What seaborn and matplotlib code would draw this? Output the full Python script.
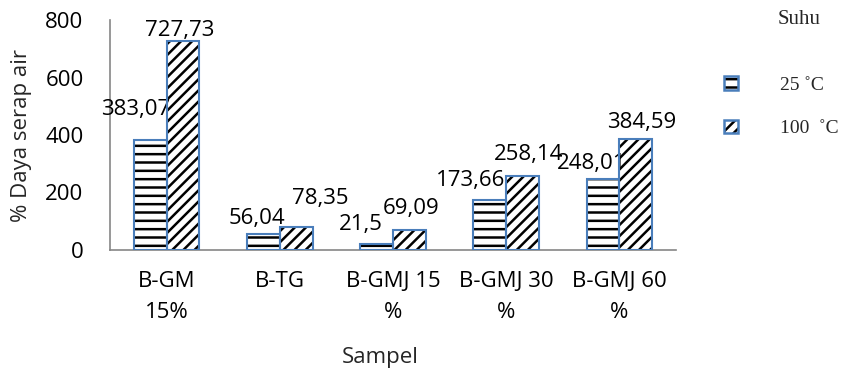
import pandas as pd
import seaborn as sns
import matplotlib.pyplot as plt
from matplotlib.patches import Rectangle, Patch

# Data
samples = ["B-GM\n15%", "B-TG", "B-GMJ 15\n%", "B-GMJ 30\n%", "B-GMJ 60\n%"]
temps = ["25 ˚C", "100  ˚C"]
vals_25 = [383.07, 56.04, 21.5, 173.66, 248.01]
vals_100 = [727.73, 78.35, 69.09, 258.14, 384.59]

df = pd.DataFrame({
    "Sampel": samples * 2,
    "Suhu": [temps[0]] * len(samples) + [temps[1]] * len(samples),
    "value": vals_25 + vals_100,
})

sns.set_style("white")
plt.rcParams['font.family'] = ['Open Sans', 'DejaVu Sans']
plt.rcParams['hatch.linewidth'] = 1.8

fig = plt.figure(figsize=(8.48, 3.76), dpi=100)
ax = fig.add_axes([110 / 848, 1 - 250 / 376, 566 / 848, 230 / 376])

sns.barplot(data=df, x="Sampel", y="value", hue="Suhu", hue_order=temps,
            order=samples, palette=["white", "white"], width=0.58,
            errorbar=None, legend=False, ax=ax)

blue = "#4a7ebb"
hatches = ["--", "///"]
fs = 16
# label offsets in pixels (dx, dy above the bar top)
label_dx = [[-14, -6, -16, -19, -11], [-3, 24, 2, 6, 6]]
label_dy = [[25, 10, 14, 14, 10], [5, 23, 16, 16, 11]]

for i, cont in enumerate(ax.containers):
    for j, bar in enumerate(cont):
        bar.set_hatch(hatches[i])
        bar.set_edgecolor("black")
        bar.set_linewidth(0)
        ax.add_patch(Rectangle(bar.get_xy(), bar.get_width(), bar.get_height(),
                               fill=False, edgecolor=blue, lw=1.5, zorder=3))
        v = bar.get_height()
        ax.annotate(f"{v:g}".replace(".", ","),
                    (bar.get_x() + bar.get_width() / 2, v),
                    xytext=(label_dx[i][j], label_dy[i][j]),
                    textcoords="offset pixels", ha="center", va="baseline",
                    fontsize=fs, color="black")

ax.set_ylim(0, 800)
ax.set_xlim(-0.5, 4.5)
ax.set_yticks([0, 200, 400, 600, 800])
ax.tick_params(axis="both", length=0, labelsize=fs, colors="black")
ax.tick_params(axis="y", pad=19)
ax.tick_params(axis="x", pad=15)
for lab in ax.get_xticklabels():
    lab.set_linespacing(1.65)
ax.set_xlabel("")
ax.set_ylabel("")
for s in ["top", "right"]:
    ax.spines[s].set_visible(False)
for s in ["left", "bottom"]:
    ax.spines[s].set_color("#868686")
    ax.spines[s].set_linewidth(1.2)

fig.text(22 / 848, 1 - 135 / 376, "% Daya serap air", rotation=90,
         ha="center", va="center", fontsize=fs)
fig.text(380 / 848, 1 - 363 / 376, "Sampel", ha="center", va="baseline",
         fontsize=fs)

# legend
serif = ['Liberation Serif', 'DejaVu Serif']
fig.text(799 / 848, 1 - 19 / 376, "Suhu", ha="center", va="center",
         fontsize=15, family=serif)
handles = []
for h in hatches:
    handles.append((Patch(facecolor="white", edgecolor="black", hatch=h, lw=0),
                    Patch(fill=False, edgecolor=blue, lw=1.8)))
leg = fig.legend(handles, temps, loc="upper left",
                 bbox_to_anchor=(724 / 848, 1 - 76 / 376), frameon=False,
                 borderpad=0, borderaxespad=0, handlelength=0.7,
                 handleheight=0.7, handletextpad=2.2, labelspacing=1.35,
                 prop={"family": serif, "size": 14})

fig.savefig("out.png", dpi=100)
